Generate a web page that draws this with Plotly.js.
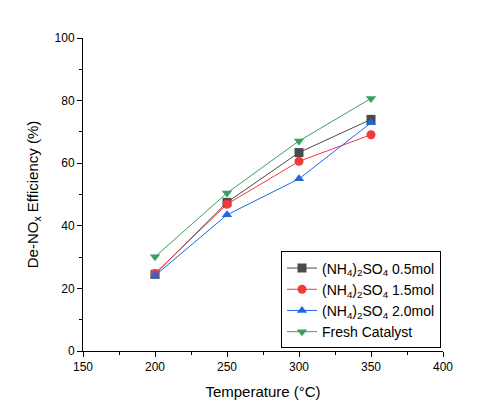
<!DOCTYPE html>
<html><head><meta charset="utf-8">
<script src="https://cdn.plot.ly/plotly-3.0.1.min.js"></script>
<style>html,body{margin:0;padding:0;background:#fff}#c{width:486px;height:408px}</style>
</head><body><div id="c"></div>
<script>
const temps = [200, 250, 300, 350];
const s05 = [24.5, 47.5, 63.4, 74.0];
const s15 = [24.8, 46.9, 60.6, 69.1];
const s20 = [24.1, 43.5, 55.0, 72.9];
const fresh = [30.1, 50.5, 67.1, 80.7];
const names = ['(NH<sub>4</sub>)<sub>2</sub>SO<sub>4</sub> 0.5mol','(NH<sub>4</sub>)<sub>2</sub>SO<sub>4</sub> 1.5mol','(NH<sub>4</sub>)<sub>2</sub>SO<sub>4</sub> 2.0mol','Fresh Catalyst'];
const colors = ['#4a4a4a','#ee3b3b','#1f66e0','#3a9e5f'];
const symbols = ['square','circle','triangle-up','triangle-down'];
const ys = [s05, s15, s20, fresh];
const traces = ys.map((y,i)=>({x:temps,y:y,name:names[i],type:'scatter',mode:'lines+markers',
  line:{color:colors[i],width:1},marker:{color:colors[i],symbol:symbols[i],size:9}}));
const axfont = {family:'Liberation Sans, Arial, sans-serif', size:12, color:'#000'};
Plotly.newPlot('c', traces, {
  width:486, height:408, margin:{l:83,r:43,t:38,b:57},
  paper_bgcolor:'#fff', plot_bgcolor:'#fff',
  font:{family:'Liberation Sans, Arial, sans-serif', color:'#000'},
  showlegend:true,
  legend:{x:0.55, y:0.318, xanchor:'left', yanchor:'top', bordercolor:'#000', borderwidth:1,
    bgcolor:'#fff', font:{size:14, family:'Liberation Sans, Arial, sans-serif'}, tracegroupgap:0},
  xaxis:{range:[150,400], tick0:150, dtick:50, showline:true, linecolor:'#000', linewidth:1,
    ticks:'outside', ticklen:5, tickcolor:'#000', showgrid:false, zeroline:false, tickfont:axfont,
    minor:{ticks:'outside', ticklen:3, dtick:25, tickcolor:'#000', showgrid:false},
    title:{text:'Temperature (°C)', font:{size:15}, standoff:13}},
  yaxis:{range:[0,100], dtick:20, showline:true, linecolor:'#000', linewidth:1,
    ticks:'outside', ticklen:5, tickcolor:'#000', showgrid:false, zeroline:false, tickfont:axfont,
    minor:{ticks:'outside', ticklen:3, dtick:10, tickcolor:'#000', showgrid:false},
    title:{text:'De-NO<sub>x</sub> Efficiency (%)', font:{size:15}, standoff:12}}
}, {displayModeBar:false, staticPlot:true});
</script></body></html>
